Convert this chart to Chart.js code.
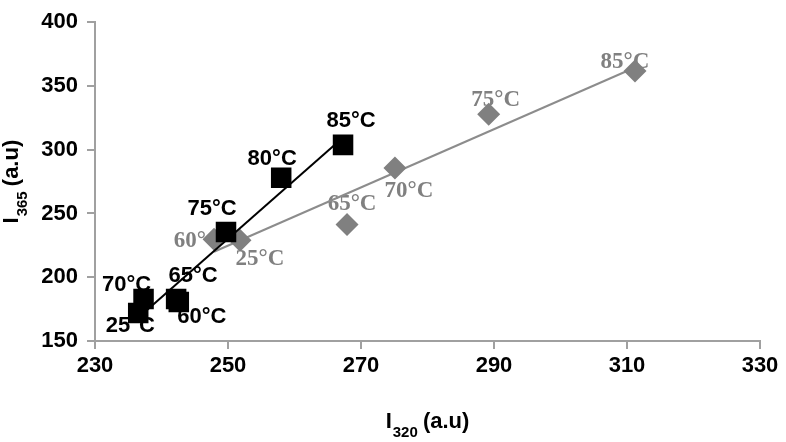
<!DOCTYPE html>
<html>
<head>
<meta charset="utf-8">
<script src="https://cdn.jsdelivr.net/npm/chart.js@4/dist/chart.umd.min.js"></script>
<style>
  html, body { margin: 0; padding: 0; background: #fff; }
  #wrap { width: 786px; height: 442px; }
</style>
</head>
<body>
<div id="wrap"><canvas id="chart"></canvas></div>
<script>
// black squares series
const blackTemps = ['25°C', '60°C', '65°C', '70°C', '75°C', '80°C', '85°C'];
const blackX = [236.5, 242.6, 242.2, 237.3, 249.7, 258.0, 267.3];
const blackY = [172.0, 180.5, 183.0, 183.0, 235.5, 278.0, 303.8];

// grey diamonds series
const greyTemps = ['25°C', '60°C', '65°C', '70°C', '75°C', '85°C'];
const greyX = [251.8, 247.9, 267.9, 275.1, 289.2, 311.2];
const greyY = [229.0, 229.8, 241.3, 285.7, 327.9, 361.7];

const xTicks = [230, 250, 270, 290, 310, 330];
const yTicks = [150, 200, 250, 300, 350, 400];

// where each label sits relative to its marker (px)
const blackLabelShift = [[-8, 13], [23, 15], [17, -23], [-17, -14], [-14, -23], [-9, -19], [8, -24]];
const greyLabelShift = [[20, 19], [-16, 2], [5, -21], [14, 23], [7, -14], [-10, -9]];

const GREY = '#808080';
const AXIS = '#a0a0a0';

function toPoints(xs, ys) {
    return xs.map((x, i) => ({ x: x, y: ys[i] }));
}

// least squares trend line, from min x to max x
function trend(xs, ys) {
    let n = xs.length;
    let mx = xs.reduce((a, b) => a + b, 0) / n;
    let my = ys.reduce((a, b) => a + b, 0) / n;
    let sxy = 0, sxx = 0;
    for (let i = 0; i < n; i++) {
        sxy += (xs[i] - mx) * (ys[i] - my);
        sxx += (xs[i] - mx) * (xs[i] - mx);
    }
    let k = sxy / sxx;
    let x0 = Math.min(...xs), x1 = Math.max(...xs);
    return [{ x: x0, y: my + k * (x0 - mx) }, { x: x1, y: my + k * (x1 - mx) }];
}

const labelPlugin = {
    id: 'tempLabels',
    beforeDatasetsDraw(chart) {
        const ctx = chart.ctx;
        const xs = chart.scales.x, ys = chart.scales.y;
        ctx.save();
        ctx.textAlign = 'center';
        ctx.textBaseline = 'middle';
        ctx.font = 'bold 23px "Liberation Serif", "Times New Roman", serif';
        ctx.fillStyle = GREY;
        greyTemps.forEach((t, i) => {
            ctx.fillText(t, xs.getPixelForValue(greyX[i]) + greyLabelShift[i][0], ys.getPixelForValue(greyY[i]) + greyLabelShift[i][1]);
        });
        ctx.font = 'bold 22px "Liberation Sans", Arial, sans-serif';
        ctx.fillStyle = '#000';
        blackTemps.forEach((t, i) => {
            ctx.fillText(t, xs.getPixelForValue(blackX[i]) + blackLabelShift[i][0], ys.getPixelForValue(blackY[i]) + blackLabelShift[i][1]);
        });
        ctx.restore();
    },
    afterDraw(chart) {
        const ctx = chart.ctx;
        const area = chart.chartArea;
        drawTitle(ctx, '320', (area.left + area.right) / 2, 428, false);
        ctx.save();
        ctx.translate(18, (area.top + area.bottom) / 2);
        ctx.rotate(-Math.PI / 2);
        drawTitle(ctx, '365', 0, 0, true);
        ctx.restore();
    }
};

// "I" + subscript + " (a.u)"
function drawTitle(ctx, sub, cx, base) {
    const big = 'bold 22px "Liberation Sans", Arial, sans-serif';
    const small = 'bold 15px "Liberation Sans", Arial, sans-serif';
    ctx.save();
    ctx.fillStyle = '#000';
    ctx.textAlign = 'left';
    ctx.textBaseline = 'alphabetic';
    ctx.font = big;
    let wI = ctx.measureText('I').width;
    let wR = ctx.measureText(' (a.u)').width;
    ctx.font = small;
    let wS = ctx.measureText(sub).width;
    let x = cx - (wI + wS + wR) / 2;
    ctx.font = big;
    ctx.fillText('I', x, base);
    ctx.font = small;
    ctx.fillText(sub, x + wI + 1, base + 9);
    ctx.font = big;
    ctx.fillText(' (a.u)', x + wI + wS, base);
    ctx.restore();
}

const tickFont = { family: '"Liberation Sans", Arial, sans-serif', size: 22, weight: 'bold' };

new Chart(document.getElementById('chart'), {
    type: 'scatter',
    data: {
        datasets: [{
            label: 'black',
            data: toPoints(blackX, blackY),
            pointStyle: 'rect',
            pointRadius: 14.5,
            pointHoverRadius: 14.5,
            backgroundColor: '#000',
            borderColor: '#000',
            borderWidth: 0
        },
        {
            label: 'black trend',
            type: 'line',
            data: trend(blackX, blackY),
            borderColor: '#000',
            borderWidth: 2,
            pointRadius: 0,
            fill: false
        },
        {
            label: 'grey',
            data: toPoints(greyX, greyY),
            pointStyle: 'rectRot',
            pointRadius: 11.5,
            pointHoverRadius: 11.5,
            backgroundColor: GREY,
            borderColor: GREY,
            borderWidth: 0
        },
        {
            label: 'grey trend',
            type: 'line',
            data: trend(greyX, greyY),
            borderColor: '#8c8c8c',
            borderWidth: 2,
            pointRadius: 0,
            fill: false
        }]
    },
    options: {
        responsive: true,
        maintainAspectRatio: false,
        animation: false,
        events: [],
        layout: { padding: { left: 0, right: 26, top: 15, bottom: 0 } },
        plugins: {
            legend: { display: false },
            tooltip: { enabled: false }
        },
        scales: {
            x: {
                type: 'linear',
                min: xTicks[0],
                max: xTicks[xTicks.length - 1],
                afterBuildTicks: (s) => { s.ticks = xTicks.map(v => ({ value: v })); },
                afterFit: (s) => { s.height = 101; },
                grid: { drawOnChartArea: false, drawTicks: true, tickLength: 8, color: AXIS, lineWidth: 2 },
                border: { display: true, color: AXIS, width: 2 },
                ticks: { color: '#000', font: tickFont, padding: 4, maxRotation: 0 }
            },
            y: {
                type: 'linear',
                min: yTicks[0],
                max: yTicks[yTicks.length - 1],
                afterBuildTicks: (s) => { s.ticks = yTicks.map(v => ({ value: v })); },
                afterFit: (s) => { s.width = 95; },
                grid: { drawOnChartArea: false, drawTicks: true, tickLength: 8, color: AXIS, lineWidth: 2 },
                border: { display: true, color: AXIS, width: 2 },
                ticks: { color: '#000', font: tickFont, padding: 9 }
            }
        }
    },
    plugins: [labelPlugin]
});
</script>
</body>
</html>
